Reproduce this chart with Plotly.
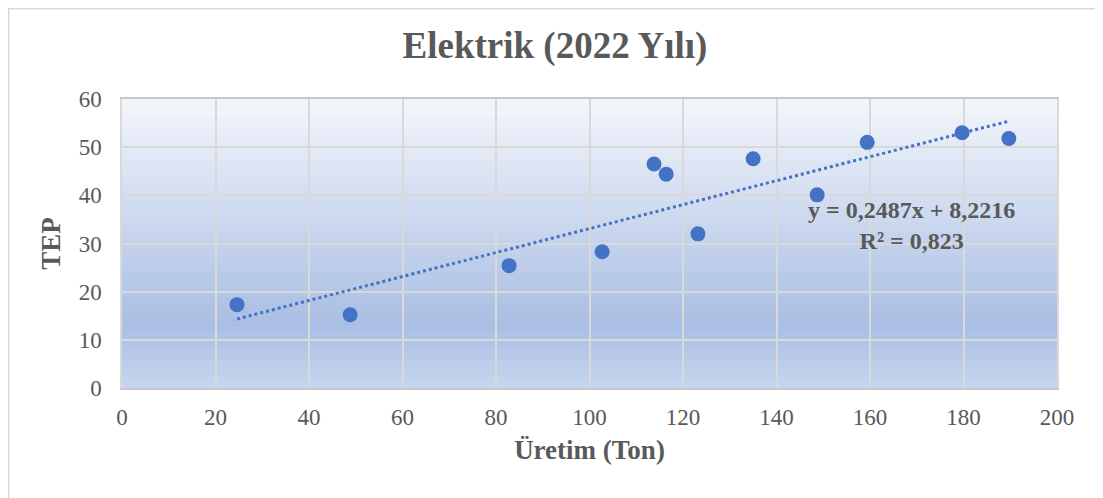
import plotly.graph_objects as go

# Data
uretim = [24.6, 48.8, 82.8, 102.7, 113.8, 116.4, 123.2, 135.0, 148.7, 159.4, 179.7, 189.7]
tep = [17.3, 15.2, 25.4, 28.3, 46.5, 44.4, 32.0, 47.6, 40.1, 51.0, 53.0, 51.8]

slope = 0.2487
intercept = 8.2216
r2_text = "0,823"
eq_text = "y = 0,2487x + 8,2216"

x_ticks = [0, 20, 40, 60, 80, 100, 120, 140, 160, 180, 200]
y_ticks = [0, 10, 20, 30, 40, 50, 60]

FONT = "Liberation Serif, Times New Roman, serif"
GRAY = "#595959"
BLUE = "#4472c4"

x_lo, x_hi = min(uretim), max(uretim)
trend_x = [x_lo + (x_hi - x_lo) * i / 100 for i in range(101)]
trend_y = [slope * v + intercept for v in trend_x]

fig = go.Figure()
fig.add_trace(go.Scatter(x=trend_x, y=trend_y, mode="lines",
                         line=dict(color=BLUE, width=3, dash="dot"),
                         hoverinfo="skip", showlegend=False))
fig.add_trace(go.Scatter(x=uretim, y=tep, mode="markers",
                         marker=dict(color=BLUE, size=15, line=dict(width=0)),
                         showlegend=False))

# gradient background for plot area
def lerp(c1, c2, t):
    return tuple(round(a + (b - a) * t) for a, b in zip(c1, c2))

top = (243, 246, 251)
mid = (169, 190, 227)
bot = (199, 214, 238)
N = 80
shapes = []
for i in range(N):
    f0 = i / N
    f1 = (i + 1) / N
    fc = (f0 + f1) / 2  # from bottom
    t_from_top = 1 - fc
    if t_from_top < 0.78:
        c = lerp(top, mid, t_from_top / 0.78)
    else:
        c = lerp(mid, bot, (t_from_top - 0.78) / 0.22)
    shapes.append(dict(type="rect", xref="x domain", yref="y domain",
                       x0=0, x1=1, y0=f0, y1=f1 + 0.002, layer="below",
                       line=dict(width=0), fillcolor="rgb(%d,%d,%d)" % c))
# outer chart border (left, top, right visible; bottom beyond the page)
shapes.append(dict(type="rect", xref="paper", yref="paper",
                   x0=(8.75 - 122) / 935, x1=(1101 - 122) / 935,
                   y0=(388 - 530) / 289, y1=(388 - 8.75) / 289,
                   line=dict(color="#d9d9d9", width=1.5), fillcolor="rgba(0,0,0,0)",
                   layer="below"))

# page body has an 8px margin, so the figure is 8px smaller and shifted
fig.update_layout(
    width=1095, height=490,
    margin=dict(l=114, r=46, t=91, b=110),
    paper_bgcolor="white", plot_bgcolor="rgba(0,0,0,0)",
    shapes=shapes,
    title=dict(text="<b>Elektrik (2022 Yılı)</b>", x=(555 - 8) / 1095, xref="container",
               xanchor="center", y=1 - (45 - 8) / 490, yanchor="middle",
               font=dict(family=FONT, size=37, color=GRAY)),
    font=dict(family=FONT, color=GRAY),
    xaxis=dict(range=[0, 200], tickvals=x_ticks, showgrid=True, gridcolor="#d9d9d9",
               gridwidth=1.5, zeroline=False, showline=True, linecolor="#c8c8c8",
               linewidth=1.5, mirror=True, ticks="", ticklabelstandoff=8,
               tickfont=dict(size=23, color=GRAY),
               title=dict(text="<b>Üretim (Ton)</b>", font=dict(size=27, color=GRAY),
                          standoff=11)),
    yaxis=dict(range=[0, 60], tickvals=y_ticks, showgrid=True, gridcolor="#d9d9d9",
               gridwidth=1.5, zeroline=False, showline=True, linecolor="#d9d9d9",
               linewidth=1.5, mirror=True, ticks="", ticklabelstandoff=14,
               tickfont=dict(size=23, color=GRAY),
               title=dict(text="<b>TEP</b>", font=dict(size=27, color=GRAY),
                          standoff=10)),
    annotations=[dict(x=168.8, y=33.8, xref="x", yref="y", showarrow=False,
                      text="<b>" + eq_text + "</b><br><b>R² = " + r2_text + "</b>",
                      align="center", font=dict(family=FONT, size=24, color=GRAY))],
)

fig.write_html("out.html")
